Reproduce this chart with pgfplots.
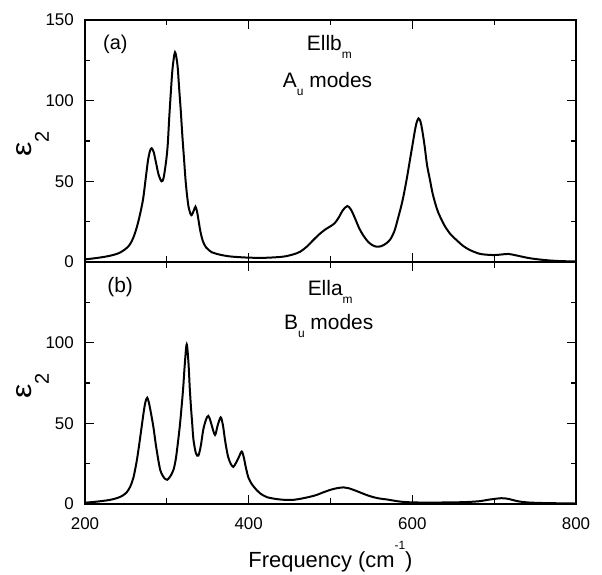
\documentclass[border=0pt]{standalone}
\usepackage{fontspec}
\setmainfont{Liberation Sans}
\usepackage{graphicx}
\usepackage{pgfplots}
\pgfplotsset{compat=1.18}

% subscripts sit well below the baseline, as in the original plot
\newcommand\lowsub[1]{\raisebox{-8bp}{\fontsize{12}{12}\selectfont #1}}
\newcommand\epstwo{\scalebox{1.15}[1]{\fontsize{28}{28}\selectfont ε}\raisebox{-17bp}{\fontsize{20}{20}\selectfont 2}}

\tikzset{txt/.style={anchor=base west, inner sep=0pt, font=\fontsize{21}{21}\selectfont}}

\pgfplotsset{panel/.style={
    width=491bp, height=242bp, scale only axis,
    xmin=200, xmax=800, ymin=0, ymax=150,
    xtick={200,400,600,800}, minor xtick={300,500,700},
    ytick={0,50,100,150}, minor ytick={25,75,125},
    tick align=inside, major tick length=9bp, minor tick length=5.5bp,
    tick style={line width=1.3pt, black},
    axis line style={line width=1.6pt},
    yticklabel style={font=\fontsize{17}{17}\selectfont, anchor=east, inner sep=0pt, xshift=-11bp},
    xticklabel style={font=\fontsize{17}{17}\selectfont, anchor=north, inner sep=0pt, yshift=-13bp},
    ylabel={\epstwo},
    ylabel style={at={([xshift=-53bp,yshift=-3bp]axis description cs:0,0.5)}, anchor=base},
    spec/.style={black, no markers, line width=2pt, smooth, tension=0.5},
}}

\begin{document}
\begin{tikzpicture}
\begin{axis}[panel, name=bot, at={(0,0)}, anchor=south west,
    xticklabels={200,400,600,800}, yticklabels={0,50,100,},
    xlabel={Frequency (cm\raisebox{18bp}{\fontsize{12}{12}\selectfont -1})},
    xlabel style={at={([yshift=-63bp]axis description cs:0.5,0)}, anchor=base, font=\fontsize{22}{22}\selectfont}]
\addplot[spec] coordinates {
(200,0.8) (215,1.5) (230,2.5) (240,3.8) (246,5.2) (251,7.3) (255,10.5) (259,16)
(263,26) (266,36) (269,47) (272,58) (274,63.5) (276,65.8) (278,63) (280,58)
(283.5,48) (286.5,37) (289.5,27.5) (292,21) (295,17.5) (298,15.5) (300.5,15)
(304,17) (308,21) (311,28) (314,40) (316,49) (318,60) (320,72) (322,87)
(324.3,99) (326.5,87) (328,72) (329.5,60) (331,50) (332.5,40) (335.5,31.5)
(338.5,30) (341.5,36) (344.5,46) (348,52.5) (350.7,54.6) (353,52) (355,48.5)
(358.9,42.8) (362,48.5) (365.8,53.7) (368.5,49) (371,40) (373,34) (375,29)
(378,25) (381.2,23) (384.5,25.5) (387.5,28.5) (391.5,32.5) (394,29) (396,24)
(398,19.5) (400,16) (404,12.2) (410,8.5) (414,6.6) (422,4.3) (435,3) (447,2.5)
(455,2.6) (465,3.4) (475,4.5) (483,5.6) (490,7) (500,8.8) (508,9.8) (516,10.3)
(522,9.8) (530,8.4) (537,7) (544,5.6) (552,4.3) (560,3.4) (569,2.8) (585,1.5)
(600,1.0) (620,0.9) (650,1.0) (670,1.3) (683,1.8) (695,2.8) (709,3.6) (718,3.1)
(728,1.8) (740,1.0) (760,0.6) (800,0.3)
};
\node[txt] at (axis cs:227,131) {(b)};
\node[txt] at (axis cs:472,129) {Ella\lowsub{m}};
\node[txt] at (axis cs:443,108) {B\lowsub{u} modes};
\end{axis}

\begin{axis}[panel, name=top, at={(0,242bp)}, anchor=south west,
    xticklabels={}, yticklabels={0,50,100,150}]
\addplot[spec] coordinates {
(200,1.6) (210,2.2) (220,2.9) (230,3.8) (240,5.2) (246,6.8) (251,8.7) (255,11)
(259,15) (263,21) (267,29) (271,39) (274,51) (277,63) (279.5,69) (281.5,70.5)
(284,68) (287,61) (290,54) (293.5,50) (296,52) (299,62) (301,72) (303,90)
(305,106) (307,120) (310,130) (313,122) (315,108) (317,94) (319,78) (321,64)
(323,50) (325,40) (327,33) (330,29) (333,32) (335,34.3) (337,31) (339,25)
(341,19) (344,13) (348,9) (355,6) (361,5) (370,4) (380,3.3) (400,2.7) (420,2.6)
(442,3.3) (455,4.8) (463,6.4) (471,9.5) (479,13.6) (487,17.5) (494,20.3)
(499.5,22) (505,24) (510,27.5) (515,32) (520.5,34.7) (525,32.5) (530,27)
(535,21) (540,16.5) (546,12.5) (551,10.5) (556,9.5) (562,9.8) (568,11.5)
(573,14) (578,19) (583,28) (588,38) (593,51) (597,63) (600,72) (603,81)
(605,86) (607.5,89) (610,87) (612,82) (615,72) (618,60) (621.5,51) (625,42)
(630,33) (634,28) (640,22) (647,17) (654,13.6) (662,10) (670,7.5) (683,5)
(699,4.3) (708,4.6) (717,5) (725,4.3) (735,3.2) (744,2.3) (758,1.4) (772,0.8)
(785,0.5) (800,0.3)
};
\node[txt, font=\fontsize{20}{20}\selectfont] at (axis cs:222,131.5) {(a)};
\node[txt] at (axis cs:471,131) {Ellb\lowsub{m}};
\node[txt] at (axis cs:441.6,108.3) {A\lowsub{u} modes};
\end{axis}

% white margin round the plot, as in the reference image
\path (bot.south west) +(-85bp,-71bp) (top.north east) +(26bp,20bp);
\end{tikzpicture}
\end{document}
